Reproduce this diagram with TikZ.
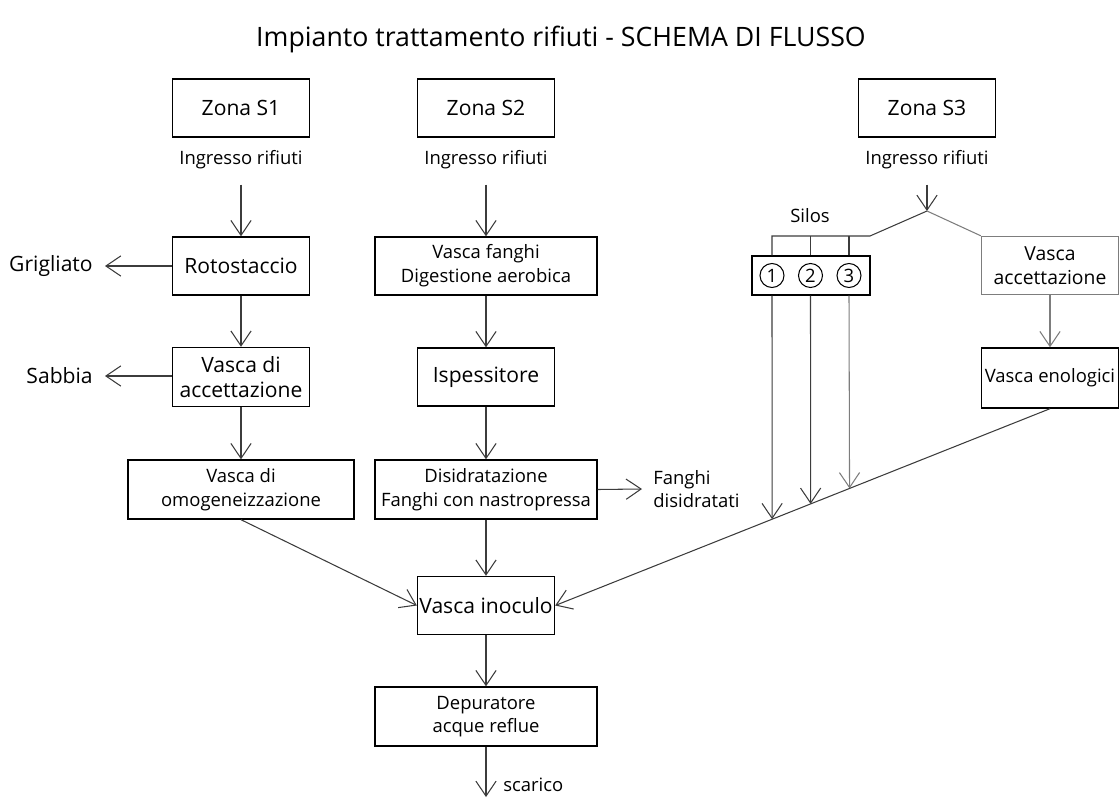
\documentclass[tikz,border=0pt]{standalone}
\usepackage{fontspec}
\setmainfont{Open Sans}
\usetikzlibrary{arrows.meta, calc, positioning}
\definecolor{flowgray}{RGB}{60,60,60}
\definecolor{lightline}{RGB}{125,125,125}

\begin{document}
\begin{tikzpicture}[x=0.02cm, y=-0.02cm, every node/.style={font=\fontsize{10.5}{13.5}\selectfont, align=center},
    box/.style={rectangle, draw, line width=0.8pt, inner sep=0pt, minimum width=2.74cm, minimum height=1.16cm},
    widebox/.style={box, minimum width=4.44cm},
    big/.style={font=\fontsize{12}{14}\selectfont},
    flow/.style={draw=flowgray, line width=0.6pt, -{Straight Barb[length=8.5pt,width=11.5pt]}},
    wire/.style={draw=flowgray, line width=0.6pt}]
    \useasboundingbox (0,0) rectangle (1120,798);

    \node (title) [font=\fontsize{15.2}{17}\selectfont] at (561,39) {Impianto trattamento rifiuti - SCHEMA DI FLUSSO};

    % zone di ingresso
    \node (zoneA) [box, big] at (241,108) {Zona S1};
    \node (zoneB) [box, big] at (486,108) {Zona S2};
    \node (zoneC) [box, big] at (927,108) {Zona S3};
    \node (inA) [below=0.12cm of zoneA] {Ingresso rifiuti};
    \node (inB) [below=0.12cm of zoneB] {Ingresso rifiuti};
    \node (inC) [below=0.12cm of zoneC] {Ingresso rifiuti};

    % linea S1
    \node (roto) [box, big] at (241,266) {Rotostaccio};
    \node (accett) [box, big, minimum height=1.18cm] at (241,377) {Vasca di\\accettazione};
    \node (omog) [box, minimum width=4.52cm, minimum height=1.18cm] at (241,489.5) {Vasca di\\omogeneizzazione};
    \node (grig) [big, anchor=east, inner sep=0.24cm] at (105,266) {Grigliato};
    \node (sabb) [big, anchor=east, inner sep=0.24cm] at (105,376) {Sabbia};

    % linea S2
    \node (fanghi) [widebox] at (486,266) {Vasca fanghi\\Digestione aerobica};
    \node (ispess) [box, big] at (486,377) {Ispessitore};
    \node (disidr) [widebox, minimum height=1.18cm] at (486,489.5) {Disidratazione\\Fanghi con nastropressa};
    \node (fdis) [anchor=west, inner sep=0.22cm, align=left] at (642,489) {Fanghi\\disidratati};

    % linea S3
    \coordinate (split) at (927,211);
    \coordinate (siloin) at (870,236);
    \node (silobox) [box, minimum width=2.36cm, minimum height=0.78cm] at (811,275.5) {};
    \node (silo1) [circle, draw, line width=0.6pt, minimum size=0.48cm, inner sep=0pt] at (772,275.5) {1};
    \node (silo2) [circle, draw, line width=0.6pt, minimum size=0.48cm, inner sep=0pt] at (810.5,275.5) {2};
    \node (silo3) [circle, draw, line width=0.6pt, minimum size=0.48cm, inner sep=0pt] at (849,275.5) {3};
    \node (silos) at (810,216) {Silos};
    \node (vaccett) [box, draw=lightline, font=\fontsize{11}{14}\selectfont] at (1050,265.5) {Vasca\\accettazione};
    \node (enolog) [box, minimum height=1.2cm] at (1050,378) {Vasca enologici};

    % vasca comune e scarico
    \node (inoculo) [box, big] at (486,605.5) {Vasca inoculo};
    \node (depur) [widebox, minimum height=1.18cm] at (486,716.5) {Depuratore\\acque reflue};
    \coordinate (out) at (486,797);
    \node (scar) [anchor=west, inner sep=0pt] at (503,785) {scarico};

    \coordinate (drop1) at ($(enolog.south)!0.5616!(inoculo.east)$);
    \coordinate (drop2) at ($(enolog.south)!0.4838!(inoculo.east)$);
    \coordinate (drop3) at ($(enolog.south)!0.4051!(inoculo.east)$);

    \draw[flow, shorten <=0.2cm] (inA.south) -- (roto.north);
    \draw[flow] (roto) -- (accett);
    \draw[flow] (accett) -- (omog);
    \draw[flow] (roto.west) -- (grig.east);
    \draw[flow] (accett.west |- sabb) -- (sabb.east);

    \draw[flow, shorten <=0.2cm] (inB.south) -- (fanghi.north);
    \draw[flow] (fanghi) -- (ispess);
    \draw[flow] (ispess) -- (disidr);
    \draw[flow] (disidr.east) -- (fdis.west);
    \draw[flow] (disidr) -- (inoculo);

    \draw[flow, shorten <=0.2cm] (inC.south) -- (split);
    \draw[wire] (split) -- (siloin) -- (siloin -| silo1) -- (silo1 |- silobox.north);
    \draw[wire] (silo2 |- siloin) -- (silo2 |- silobox.north);
    \draw[wire] (silo3 |- siloin) -- (silo3 |- silobox.north);
    \draw[wire, draw=lightline] (split) -- (vaccett.north west);
    \draw[flow, draw=lightline] (vaccett) -- (enolog);
    \draw[flow] (silo1 |- silobox.south) -- (drop1);
    \draw[flow] (silo2 |- silobox.south) -- (drop2);
    \draw[flow, draw=lightline] (silo3 |- silobox.south) -- (drop3);

    \draw[flow] (omog.south) -- (inoculo.west);
    \draw[flow] (enolog.south) -- (inoculo.east);
    \draw[flow] (inoculo) -- (depur);
    \draw[flow] (depur) -- (out);
\end{tikzpicture}
\end{document}
